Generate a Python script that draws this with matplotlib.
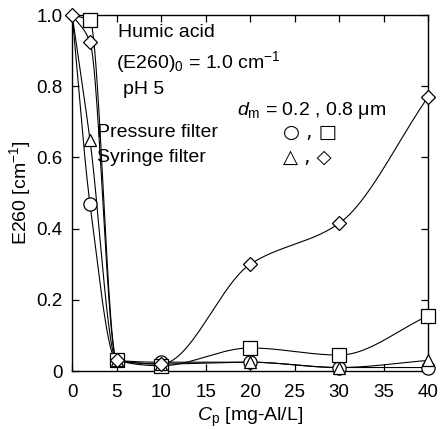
import numpy as np
import matplotlib
matplotlib.use("Agg")
import matplotlib.pyplot as plt

plt.rcParams['font.family'] = ['Liberation Sans', 'DejaVu Sans']
plt.rcParams['mathtext.fontset'] = 'custom'
plt.rcParams['mathtext.rm'] = 'Liberation Sans'
plt.rcParams['mathtext.it'] = 'Liberation Sans:italic'

cp = [0, 2, 5, 10, 20, 30, 40]
pressure_02 = [1.0, 0.47, 0.03, 0.025, 0.025, 0.01, 0.01]   # circle
pressure_08 = [1.0, 0.985, 0.03, 0.015, 0.065, 0.045, 0.155]  # square
syringe_02 = [1.0, 0.65, 0.03, 0.02, 0.025, 0.01, 0.03]      # triangle
syringe_08 = [1.0, 0.925, 0.03, 0.02, 0.30, 0.415, 0.77]     # diamond


def pchip(x, y, xn):
    x = np.asarray(x, float); y = np.asarray(y, float)
    h = np.diff(x); d = np.diff(y) / h
    n = len(x); m = np.zeros(n)
    for k in range(1, n - 1):
        if d[k - 1] * d[k] <= 0:
            m[k] = 0
        else:
            w1 = 2 * h[k] + h[k - 1]; w2 = h[k] + 2 * h[k - 1]
            m[k] = (w1 + w2) / (w1 / d[k - 1] + w2 / d[k])
    m[0] = d[0]; m[-1] = d[-1]
    out = np.empty_like(xn)
    for i, xv in enumerate(xn):
        k = min(np.searchsorted(x, xv, side='right') - 1, n - 2)
        k = max(k, 0)
        t = (xv - x[k]) / h[k]
        h00 = 2 * t**3 - 3 * t**2 + 1; h10 = t**3 - 2 * t**2 + t
        h01 = -2 * t**3 + 3 * t**2; h11 = t**3 - t**2
        out[i] = h00 * y[k] + h10 * h[k] * m[k] + h01 * y[k + 1] + h11 * h[k] * m[k + 1]
    return out


fig = plt.figure(figsize=(4.4, 4.3), dpi=100)
ax = fig.add_axes([0.164, 0.137, 0.809, 0.828])

xs = np.linspace(0, 40, 600)
series = [(pressure_02, 'o', 9.5, 1), (pressure_08, 's', 10, 1), (syringe_02, '^', 9, 1), (syringe_08, 'D', 7, 0)]
for ys, mk, ms, start in series:
    ax.plot(xs, pchip(cp, ys, xs), color='black', lw=0.8, zorder=2)
for ys, mk, ms, start in series:
    ax.plot(cp[start:], ys[start:], linestyle='none', marker=mk, ms=ms, mfc='white', mec='black',
            mew=0.9, zorder=3, clip_on=False)

ax.set_xlim(0, 40)
ax.set_ylim(0, 1.0)
ax.set_xticks(range(0, 41, 5))
ax.set_yticks([0, 0.2, 0.4, 0.6, 0.8, 1.0])
ax.set_yticklabels(['0', '0.2', '0.4', '0.6', '0.8', '1.0'])
ax.tick_params(direction='in', top=True, right=True, labelsize=13.5, length=5, width=0.9)
ax.tick_params(axis='x', pad=9)
ax.tick_params(axis='y', pad=7)
for s in ax.spines.values():
    s.set_linewidth(1.0)

ax.set_xlabel(r'$\mathit{C}_{\mathrm{p}}$ [mg-Al/L]', fontsize=14, labelpad=4)
ax.set_ylabel(r'E260 [cm$^{-1}$]', fontsize=14, labelpad=2)

fs = 14
ax.text(5.2, 0.95, 'Humic acid', fontsize=fs, va='center')
ax.text(4.95, 0.868, r'(E260)$_0$ = 1.0 cm$^{-1}$', fontsize=fs, va='center')
ax.text(5.7, 0.79, 'pH 5', fontsize=fs, va='center')
ax.text(18.5, 0.733, r'$\mathit{d}_{\mathrm{m}}$ = 0.2 , 0.8 $\mathrm{\mu}$m', fontsize=fs, va='center')
ax.text(2.8, 0.671, 'Pressure filter', fontsize=fs, va='center')
ax.text(2.8, 0.60, 'Syringe filter', fontsize=fs, va='center')
ax.text(23.7, 0.671, '○ , □', fontsize=fs, va='center', family=['DejaVu Sans'])
ax.text(23.7, 0.60, '△ , ◇', fontsize=fs, va='center', family=['DejaVu Sans'])

fig.savefig('out.png', dpi=100)
